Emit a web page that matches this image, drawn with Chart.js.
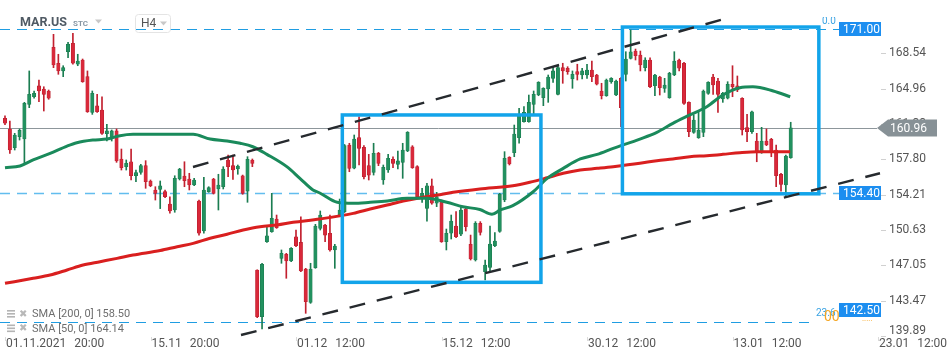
<!DOCTYPE html>
<html><head><meta charset="utf-8">
<script src="https://cdn.jsdelivr.net/npm/chart.js@4.4.1/dist/chart.umd.min.js"></script>
<style>html,body{margin:0;padding:0;background:#fff;overflow:hidden}#wrap{width:950px;height:361px;position:relative}</style>
</head><body><div id="wrap"><canvas id="c" width="950" height="361"></canvas></div>
<script>
// ---- DATA (MAR.US, H4 candles) ----
const opens=[161.95,160.87,158.97,160.09,159.85,163.37,164.14,165.23,164.92,164.72,169.15,167.53,166.75,168.70,169.55,167.43,167.86,166.17,162.55,163.21,162.79,160.39,159.98,160.67,157.83,157.05,157.55,156.14,156.48,157.15,155.60,154.69,154.75,154.52,153.27,152.66,155.80,156.10,155.80,155.19,153.57,150.53,154.51,155.80,154.79,155.02,157.73,157.15,156.81,156.13,154.58,157.73,146.58,141.85,149.45,150.46,151.75,147.76,148.17,147.49,149.95,149.38,146.68,143.30,146.81,150.80,151.14,150.30,148.61,152.08,152.50,159.25,156.90,159.99,159.01,157.15,156.48,158.40,155.70,156.71,157.80,157.29,157.49,158.64,159.07,157.05,153.91,152.83,155.12,153.34,153.50,149.45,150.30,151.04,150.20,152.76,149.18,147.59,151.31,146.41,146.85,149.04,150.50,153.67,158.00,158.47,159.99,161.61,161.61,163.37,164.31,164.04,164.92,166.00,164.38,167.08,167.02,165.93,166.68,166.34,166.34,166.85,166.34,164.72,164.24,165.66,164.31,166.00,166.41,168.03,168.77,168.37,167.08,167.86,165.26,166.14,164.99,164.04,166.34,167.86,167.53,163.57,160.53,159.99,160.53,164.48,166.14,165.73,163.91,163.98,165.40,165.23,163.98,161.00,160.60,159.65,158.51,159.65,159.82,158.74,156.27,155.19,157.96];
const highs=[162.20,161.68,160.43,160.87,163.57,166.75,164.72,165.83,165.15,164.82,170.46,168.44,167.28,169.65,170.56,168.44,167.96,166.75,164.72,164.38,164.14,161.34,160.77,160.87,158.84,157.73,158.84,156.71,157.29,157.66,155.70,155.02,155.60,154.69,154.00,156.13,156.88,157.55,156.38,155.87,153.67,155.97,155.02,155.87,156.28,157.05,158.23,158.23,157.22,156.20,158.06,157.83,146.60,147.26,150.97,154.35,152.15,148.61,148.27,148.84,150.63,151.98,146.75,147.26,151.21,152.56,151.21,152.15,149.18,153.77,159.30,159.42,160.26,162.11,159.18,158.30,159.42,158.50,157.22,158.30,158.06,158.64,159.42,160.60,159.18,157.15,154.86,155.36,155.80,154.45,153.67,150.73,152.15,152.49,153.10,152.83,150.12,151.48,151.48,147.59,151.04,150.36,154.35,158.57,158.06,161.27,162.96,163.13,164.31,164.72,165.66,165.05,166.34,167.18,167.28,167.53,167.18,166.75,167.43,167.02,167.43,167.76,166.41,165.50,165.93,166.07,165.83,166.07,168.70,170.90,168.97,168.77,168.09,168.09,166.41,166.21,166.00,166.61,168.70,167.96,167.63,163.63,162.29,162.62,164.82,165.66,166.41,166.00,164.58,165.66,167.28,166.24,164.04,162.36,162.69,160.43,161.04,160.87,159.92,159.25,156.38,158.23,161.55];
const lows=[161.30,158.40,158.74,159.75,157.29,163.03,163.98,163.63,162.69,163.88,167.08,166.41,166.17,168.09,167.43,167.28,165.60,162.55,162.35,162.55,160.33,159.65,159.65,157.49,156.71,156.71,155.70,155.53,156.28,154.86,155.02,153.67,152.80,153.91,152.33,152.43,155.70,155.02,154.69,155.12,150.12,150.30,154.45,154.28,152.66,154.79,156.03,155.77,156.28,154.25,153.44,157.05,141.75,140.60,149.38,150.40,150.80,147.26,145.74,147.42,148.94,146.41,142.19,143.20,146.75,150.63,149.45,148.50,146.75,151.98,152.40,156.54,156.83,157.22,155.80,155.70,156.20,157.15,155.26,156.48,156.94,156.81,155.87,158.57,156.88,153.91,153.44,151.54,153.24,153.00,149.38,148.61,149.72,149.85,150.05,150.53,147.59,147.49,150.12,145.57,146.41,148.94,150.40,153.50,157.22,158.06,159.42,161.55,161.55,162.35,164.24,163.23,163.57,165.60,164.31,165.50,166.41,164.99,165.83,165.93,166.00,165.66,165.33,163.91,164.18,165.50,164.24,161.10,165.73,167.96,167.86,166.75,166.75,165.05,164.24,164.31,164.58,163.98,166.27,166.75,163.37,160.09,160.43,159.92,160.09,164.38,164.38,162.55,163.57,163.91,164.14,164.65,160.26,159.58,160.43,157.55,158.40,159.18,158.06,155.02,154.58,154.11,157.90];
const closes=[161.45,158.74,160.26,160.73,163.47,164.38,164.49,164.72,164.38,163.98,167.35,166.75,167.08,169.45,167.53,167.76,165.66,162.62,164.49,162.62,160.43,160.67,160.67,157.63,156.94,157.39,156.14,156.44,157.15,155.53,155.12,154.35,155.10,154.01,152.56,155.87,156.81,155.63,155.19,155.70,150.30,154.69,154.92,154.35,155.19,156.81,157.05,156.71,157.12,154.35,157.80,157.39,141.85,147.16,150.05,151.82,150.87,148.27,147.49,148.78,149.04,146.48,143.37,146.68,151.04,152.15,150.12,148.61,149.01,152.66,159.20,156.88,159.85,158.91,156.03,156.20,158.40,157.39,156.99,157.90,157.39,157.63,158.74,160.53,156.94,154.01,154.35,155.12,153.34,154.01,149.45,150.30,151.54,149.95,152.66,150.97,147.69,151.31,150.40,147.09,149.21,149.52,154.25,157.90,157.32,160.36,162.29,162.56,163.57,164.38,165.60,164.99,166.14,166.75,167.08,166.75,166.68,166.41,166.41,166.75,166.85,166.17,165.40,164.24,165.83,166.00,165.73,163.03,167.96,168.70,168.30,167.35,167.86,165.15,166.34,165.05,165.33,166.51,167.76,167.02,163.47,160.60,161.78,160.77,164.72,165.60,165.33,164.38,164.48,165.40,165.15,164.82,160.77,160.60,162.62,158.51,159.65,159.25,158.57,156.13,155.26,158.13,160.99];

const sma50Idx=[0,3.1,5.8,9.3,12.8,14.8,18.1,21.0,23.7,26.4,32.0,38.8,42.3,45.8,48.5,51.1,54.0,58.1,60.8,63.5,64.9,68.5,71.8,75.3,78.8,82.9,87.0,91.1,94.4,97.9,100.4,102.1,104.7,108.9,111.8,115.1,118.6,122.1,125.4,130.9,134.4,137.7,141.2,144.7,148.0,151.5,154.2,158.4,161.9];
const sma50Val=[156.95,157.12,157.73,158.40,159.14,159.48,159.75,159.85,160.19,160.33,160.34,160.33,159.85,159.65,159.42,159.07,158.30,157.05,155.87,154.69,154.38,153.44,153.34,153.44,153.57,153.84,153.84,153.44,152.99,152.71,152.22,152.66,153.10,154.51,155.87,156.88,157.83,158.30,158.91,159.85,160.53,161.44,162.29,163.13,164.31,165.05,165.15,164.72,164.14];
const sma200Idx=[0,5.8,9.3,12.8,16.1,19.6,23.1,26.4,32.0,35.5,38.8,42.3,45.8,49.1,52.6,56.1,59.4,64.9,71.8,75.3,78.8,82.1,85.6,89.1,92.4,97.9,104.7,108.2,111.8,115.1,118.6,122.1,125.4,130.9,134.4,137.7,141.2,144.7,148.0,151.5,155.1,161.9];
const sma200Val=[145.23,145.74,146.07,146.58,147.08,147.42,147.76,148.10,148.55,148.94,149.28,149.79,150.20,150.63,150.97,151.14,151.41,151.75,152.32,152.76,153.17,153.57,153.91,154.18,154.45,154.79,155.12,155.47,155.93,156.38,156.71,156.88,157.05,157.39,157.66,157.83,158.06,158.16,158.30,158.47,158.57,158.57];

const yTickValues=[168.54,164.96,161.38,157.80,154.21,150.63,147.05,143.47,139.89];
const xTickIdx=[0,30,60,90,120,150,180];
const xTickDates=['01.11.2021','15.11','01.12','15.12','30.12','13.01','23.01'];
const xTickTimes=['20:00','20:00','12:00','12:00','12:00','12:00','12:00'];
const lastPrice=160.96;
const levelTop=171.00, levelMid=154.40, levelLow=142.50, levelFib=141.31;
const sma200Last=158.50, sma50Last=164.14;
const rectsIdx=[[69.55,110.5],[127.3,167.8]];
const rectsVal=[[162.29,145.33],[171.2,154.3]];
const channelUpper=[[38.76,157.02],[149.07,172.12]];
const channelLower=[[48.66,139.99],[180.41,156.38]];

// ---- CHART ----
const N=opens.length;
const idx=[...Array(N).keys()];
const up=i=>closes[i]>=opens[i];
const FONT='Roboto, "Open Sans", sans-serif';

const overlay={
  id:'overlay',
  beforeDatasetsDraw(chart){
    const c=chart.ctx,X=chart.scales.x,Y=chart.scales.y,a=chart.chartArea;
    c.save();
    const hline=(v,col,w,dash,x1)=>{c.beginPath();c.setLineDash(dash);c.strokeStyle=col;c.lineWidth=w;const y=Math.round(Y.getPixelForValue(v))+0.5;c.moveTo(a.left,y);c.lineTo(x1,y);c.stroke();};
    hline(levelTop,'#1f9de2',1,[10,7],a.right);
    hline(levelMid,'#62bdee',1.5,[10,7],a.right);
    hline(levelFib,'#1f9de2',1,[10,7],815);
    hline(lastPrice,'#8d969b',1,[],a.right-3);
    c.restore();
  },
  afterDatasetsDraw(chart){
    const c=chart.ctx,X=chart.scales.x,Y=chart.scales.y,a=chart.chartArea;
    const px=i=>X.getPixelForValue(i),py=v=>Y.getPixelForValue(v);
    c.save();
    // rectangles
    c.setLineDash([]);c.strokeStyle='#12a4ea';c.lineWidth=3.5;
    rectsIdx.forEach((r,k)=>{const x0=px(r[0]),x1=px(r[1]),y0=py(rectsVal[k][0]),y1=py(rectsVal[k][1]);c.strokeRect(x0,y0,x1-x0,y1-y0);});
    // channel lines
    c.strokeStyle='#262a2e';c.lineWidth=2.4;c.setLineDash([16,12]);
    [channelUpper,channelLower].forEach(l=>{c.beginPath();c.moveTo(px(l[0][0]),py(l[0][1]));c.lineTo(px(l[1][0]),py(l[1][1]));c.stroke();});
    c.setLineDash([]);
    // fib texts
    c.font='10px '+FONT;c.fillStyle='#3aa3e3';c.textBaseline='alphabetic';c.textAlign='left';
    c.save();c.beginPath();c.rect(800,17,60,20);c.clip();c.fillText('0.0',822,24);c.restore();
    c.fillText('23.6',816,316);
    c.save();c.beginPath();c.rect(800,300,80,30);c.clip();
    c.font='14px '+FONT;c.fillStyle='#f5a623';c.fillText('00',824,321);
    c.font='8px '+FONT;c.fillText('.....',862,321);c.restore();
    // blue price boxes
    const box=(v,t)=>{const y=Math.round(py(v));c.fillStyle='#1c8ef0';c.fillRect(839,y-7,42,14);c.fillStyle='#fff';c.font='12px '+FONT;c.textBaseline='middle';c.textAlign='left';c.fillText(t,843,y+0.5);};
    box(levelTop,levelTop.toFixed(2));box(levelMid,levelMid.toFixed(2));box(levelLow,levelLow.toFixed(2));
    // y ticks
    c.font='12px '+FONT;c.textBaseline='middle';c.textAlign='left';
    yTickValues.forEach(v=>{let y=py(v);const ly=Math.min(y,331);c.strokeStyle='#d0d0d0';c.lineWidth=1;c.beginPath();c.moveTo(881,Math.round(y)+0.5);c.lineTo(886,Math.round(y)+0.5);c.stroke();c.fillStyle='#555';c.fillText(v.toFixed(2),889,ly);});
    // last price label
    const ly=Math.round(py(lastPrice));
    c.fillStyle='#879196';c.beginPath();c.moveTo(877,ly);c.lineTo(888,ly-8.5);c.lineTo(937,ly-8.5);c.lineTo(937,ly+8.5);c.lineTo(888,ly+8.5);c.closePath();c.fill();
    c.fillStyle='#fff';c.font='12px '+FONT;c.fillText(lastPrice.toFixed(2),890,ly+0.5);
    // x ticks
    c.textBaseline='middle';
    xTickIdx.forEach((t,k)=>{const x=px(t);c.strokeStyle='#dadada';c.beginPath();c.moveTo(Math.round(x)+0.5,a.bottom);c.lineTo(Math.round(x)+0.5,a.bottom+4);c.stroke();
      c.fillStyle='#555';c.font='12px '+FONT;c.fillText(xTickDates[k],x+1,344);const w=c.measureText(xTickDates[k]).width;c.fillText(xTickTimes[k],x+1+w+8,344);});
    // header
    c.textBaseline='middle';c.font='bold 12.5px '+FONT;c.fillStyle='#505a64';c.fillText('MAR.US',20,23);
    c.font='bold 8px '+FONT;c.fillStyle='#8796a3';c.fillText('STC',73,24);
    const tri=(x,y)=>{c.fillStyle='#c8c8c8';c.beginPath();c.moveTo(x,y);c.lineTo(x+7,y);c.lineTo(x+3.5,y+4);c.closePath();c.fill();};
    tri(95,19.5);
    c.strokeStyle='#e4e4e4';c.lineWidth=1;c.beginPath();c.roundRect(135.5,14.5,35,18,3);c.stroke();
    c.font='12px '+FONT;c.fillStyle='#555';c.fillText('H4',141,23.5);tri(160,21.5);
    // legend
    const leg=(y,t)=>{c.fillStyle='#b4b4b4';for(let k=0;k<3;k++)c.fillRect(7,y-4+k*3,8,1.6);
      c.font='bold 10px "DejaVu Sans"';c.fillStyle='#b8b8b8';c.fillText('✖',19,y);
      c.font='11px '+FONT;c.fillStyle='#6e6e6e';c.fillText(t,32,y+0.5);};
    leg(314,'SMA [200, 0] '+sma200Last.toFixed(2));
    leg(328.5,'SMA [50, 0] '+sma50Last.toFixed(2));
    c.restore();
  }
};

new Chart(document.getElementById('c'),{
  type:'bar',
  data:{datasets:[
    {type:'line',label:'SMA50',data:sma50Idx.map((x,k)=>({x,y:sma50Val[k]})),borderColor:'#1a8a5b',borderWidth:3,pointRadius:0,tension:0.4,cubicInterpolationMode:'monotone',order:0},
    {type:'line',label:'SMA200',data:sma200Idx.map((x,k)=>({x,y:sma200Val[k]})),borderColor:'#d91f1f',borderWidth:3,pointRadius:0,tension:0.4,cubicInterpolationMode:'monotone',order:1},
    {label:'body',data:idx.map(i=>({x:i,y:[opens[i],closes[i]]})),backgroundColor:idx.map(i=>up(i)?'#22915f':'#d9283a'),borderColor:idx.map(i=>up(i)?'#1b7a4f':'#b81f2d'),borderWidth:0.6,borderSkipped:false,barThickness:3.4,minBarLength:1,grouped:false,order:2},
    {label:'wick',data:idx.map(i=>({x:i,y:[lows[i],highs[i]]})),backgroundColor:idx.map(i=>up(i)?'#1b7d51':'#c2202f'),borderWidth:0,barThickness:1,grouped:false,order:3}
  ]},
  options:{
    responsive:false,animation:false,devicePixelRatio:1,
    layout:{padding:{left:0,right:70,top:0,bottom:24}},
    plugins:{legend:{display:false},tooltip:{enabled:false}},
    scales:{
      x:{type:'linear',min:-1.031,max:180.41,display:false,offset:false},
      y:{type:'linear',min:139.79,max:173.94,display:false}
    }
  },
  plugins:[overlay]
});
</script></body></html>
